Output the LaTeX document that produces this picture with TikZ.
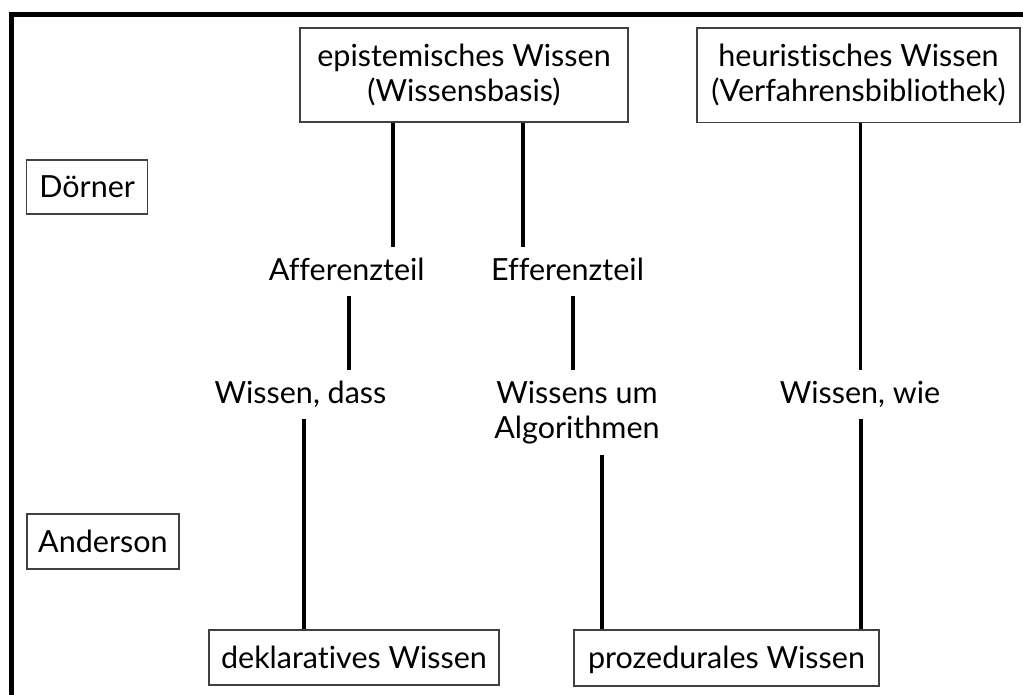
\documentclass[tikz,border=0pt]{standalone}
\usepackage{fontspec}
\setmainfont{Lato}[Ligatures=NoCommon]
\definecolor{boxgray}{HTML}{404040}
\newcommand\dgfont{\fontsize{30.5}{35}\selectfont}
\begin{document}
\begin{tikzpicture}[x=1pt,y=-1pt,
  box/.style={draw=boxgray, line width=1.3pt, align=center, inner sep=0pt, font=\dgfont},
  onebox/.style={box, text height=22pt, text depth=1pt},
  lbl/.style={inner xsep=0pt, inner ysep=11pt, text height=22pt, text depth=5pt, font=\dgfont},
  conn/.style={line width=3.1pt, black}]
\useasboundingbox (0,0) rectangle (1023,694);
\clip (0,0) rectangle (1023,694);
\fill[white] (0,0) rectangle (1023,694);
\draw[line width=5pt] (11.5,710) -- (11.5,14) -- (1040,14);

\node[box, minimum width=328pt, minimum height=94pt] (epi) at (464,75) {epistemisches Wissen\\(Wissensbasis)};
\node[box, minimum width=323pt, minimum height=94.5pt] (heu) at (858.5,75.2) {heuristisches Wissen\\(Verfahrensbibliothek)};
\node[onebox, minimum width=121pt, minimum height=54pt] (doe) at (87.2,187) {Dörner};
\node[onebox, minimum width=152pt, minimum height=55pt] (and) at (102.9,541.5) {Anderson};
\node[onebox, minimum width=290pt, minimum height=55pt] (dek) at (354,657.5) {deklaratives Wissen};
\node[onebox, minimum width=305pt, minimum height=56pt] (pro) at (726.5,658) {prozedurales Wissen};

\node[lbl, anchor=base] (aff) at (346.7,280) {Afferenzteil};
\node[lbl, anchor=base] (eff) at (567.5,280) {Efferenzteil};
\node[lbl, anchor=base] (dass) at (300.5,403) {Wissen, dass};
\node[lbl, anchor=base] (wie) at (860,403) {Wissen, wie};
\node[inner xsep=0pt, inner ysep=11pt, align=center, font=\dgfont, anchor=north] (alg) at (577,370) {\rule{0pt}{22pt}Wissens um\\Algorithmen\rule[-5pt]{0pt}{5pt}};

\draw[conn] (epi.south -| 393,0) -- (aff.north -| 393,0);
\draw[conn] (epi.south -| 523,0) -- (eff.north -| 523,0);
\draw[conn] (heu.south -| 860.5,0) -- (wie.north -| 860.5,0);
\draw[conn] (aff.south -| 349,0) -- (dass.north -| 349,0);
\draw[conn] (eff.south -| 573,0) -- (alg.north -| 573,0);
\draw[conn] (dass.south -| 304,0) -- (dek.north -| 304,0);
\draw[conn] (alg.south -| 602,0) -- (pro.north -| 602,0);
\draw[conn] (wie.south -| 861,0) -- (pro.north -| 861,0);
\end{tikzpicture}
\end{document}
